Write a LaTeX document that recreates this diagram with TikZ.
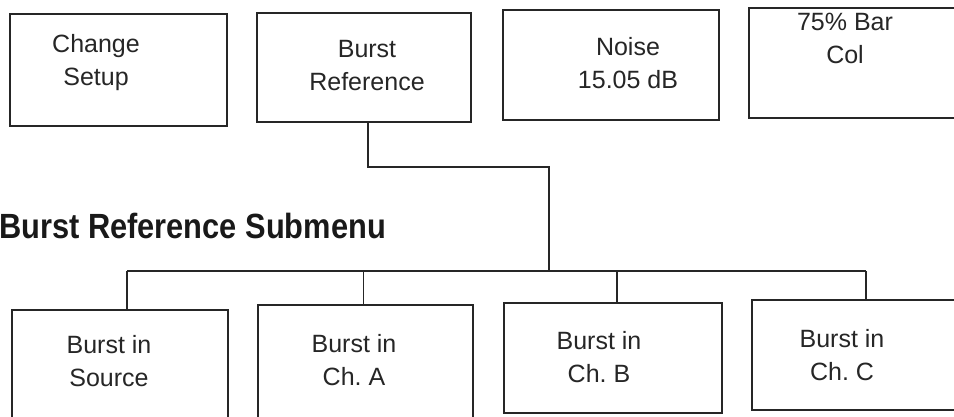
\documentclass[tikz,border=0pt]{standalone}
\usepackage{fontspec}
\setmainfont{Liberation Sans}
\begin{document}
\begin{tikzpicture}[x=1pt,y=-1pt,
  box/.style={draw=black!85, line width=1.4pt, rectangle, inner sep=0pt},
  lbl/.style={align=center, inner sep=0pt, font=\fontsize{25}{33}\selectfont, text=black!85},
  wire/.style={draw=black!85, line width=1.2pt}]
\clip (0,0) rectangle (954,417);
\fill[white] (0,0) rectangle (954,417);
% top boxes
\node[box, minimum width=217pt, minimum height=112pt] (b1) at (118.5,70) {};
\node[box, minimum width=214pt, minimum height=109pt] (b2) at (364,67.5) {};
\node[box, minimum width=216pt, minimum height=110pt] (b3) at (611,65) {};
\node[box, minimum width=215pt, minimum height=110pt] (b4) at (856.5,63) {};
\node[lbl] (t1) at (96,63) {Change\\Setup};
\node[lbl] (t2) at (367,66) {Burst\\Reference};
\node[lbl] (t3) at (628,63) {Noise\\15.05 dB};
\node[lbl] (t4) at (845,38) {75\% Bar\\Col};
% heading
\node[anchor=base west, inner sep=0pt, text=black!90] (h) at (-1,238)
  {\scalebox{0.88}[1]{\fontsize{35}{40}\selectfont\bfseries Burst Reference Submenu}};
% bottom boxes
\node[box, minimum width=216pt, minimum height=112pt] (b5) at (120,366) {};
\node[box, minimum width=215pt, minimum height=114pt] (b6) at (365.5,362) {};
\node[box, minimum width=218pt, minimum height=110pt] (b7) at (613,358) {};
\node[box, minimum width=210pt, minimum height=110pt] (b8) at (857,355) {};
\node[lbl] (t5) at (109,361) {Burst in\\Source};
\node[lbl] (t6) at (354,360) {Burst in\\Ch.\ A};
\node[lbl] (t7) at (599,357) {Burst in\\Ch.\ B};
\node[lbl] (t8) at (842,355) {Burst in\\Ch.\ C};
% connectors
\coordinate (k) at (549,167);
\coordinate (j) at (549,271);
\coordinate (bl) at (127,271);
\coordinate (br) at (866,271);
\draw[wire] ([xshift=4pt]b2.south) |- (k) -- (j);
\draw[wire] (bl) -- (br);
\draw[wire] (bl) -- (bl |- b5.north);
\draw[wire] ([xshift=-2pt]b6.north |- bl) -- ([xshift=-2pt]b6.north);
\draw[wire] ([xshift=4pt]b7.north |- bl) -- ([xshift=4pt]b7.north);
\draw[wire] (br) -- (br |- b8.north);
\end{tikzpicture}
\end{document}
